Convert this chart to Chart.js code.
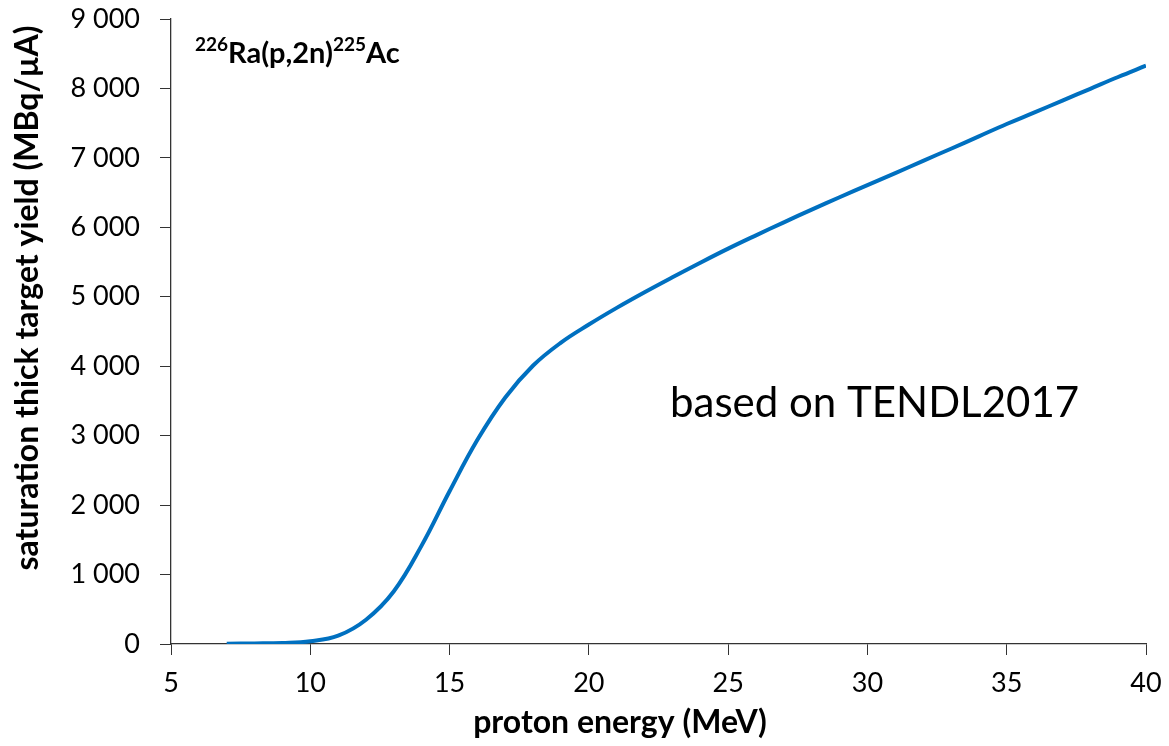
<!DOCTYPE html>
<html>
<head>
<meta charset="utf-8">
<script src="https://cdn.jsdelivr.net/npm/chart.js@4.4.1/dist/chart.umd.min.js"></script>
<style>
  html, body { margin: 0; padding: 0; background: #fff; }
  #wrap { width: 1169px; height: 746px; position: relative; }
</style>
</head>
<body>
<div id="wrap"><canvas id="yieldChart"></canvas></div>
<script>
// --- DADOS ---
const energia = [7, 8, 9, 10, 11, 12, 13, 14, 15, 16, 17, 18, 19, 20, 21, 22, 23, 24, 25, 26, 27, 28, 29, 30, 31, 32, 33, 34, 35, 36, 37, 38, 39, 40];
const rendimento = [5, 8, 15, 40, 120, 350, 760, 1420, 2200, 2940, 3550, 4010, 4340, 4600, 4840, 5065, 5280, 5490, 5693, 5885, 6072, 6255, 6433, 6607, 6780, 6958, 7132, 7310, 7488, 7655, 7825, 7995, 8165, 8328];

const tituloX = 'proton energy (MeV)';
const tituloY = 'saturation thick target yield (MBq/µA)';
const textoReacao = [['226', true], ['Ra(p,2n)', false], ['225', true], ['Ac', false]];
const textoFonte = 'based on TENDL2017';

const FONTE = 'Lato, "Open Sans", sans-serif';
const AZUL = '#0070C0';

// títulos dos eixos e texto livre, desenhados por cima
const anotacoes = {
    id: 'anotacoes',
    afterDraw(chart) {
        const ctx = chart.ctx;
        ctx.save();
        ctx.fillStyle = '#000';

        // título do eixo Y (fora do centro, como no original)
        ctx.save();
        ctx.translate(28, 298);
        ctx.rotate(-Math.PI / 2);
        ctx.font = 'bold 32px ' + FONTE;
        ctx.textAlign = 'center';
        ctx.textBaseline = 'middle';
        ctx.fillText(tituloY, 0, 0);
        ctx.restore();

        // título do eixo X
        ctx.font = 'bold 32px ' + FONTE;
        ctx.textAlign = 'center';
        ctx.textBaseline = 'middle';
        ctx.fillText(tituloX, 620, 723);

        // reação com sobrescritos
        ctx.textAlign = 'left';
        ctx.textBaseline = 'alphabetic';
        let x = 195;
        textoReacao.forEach(([t, sup]) => {
            ctx.font = sup ? 'bold 19px ' + FONTE : 'bold 29px ' + FONTE;
            ctx.fillText(t, x, sup ? 51 : 63);
            x += ctx.measureText(t).width;
        });

        ctx.font = '42px ' + FONTE;
        ctx.fillText(textoFonte, 670, 417);
        ctx.restore();
    }
};

const ctx = document.getElementById('yieldChart').getContext('2d');
new Chart(ctx, {
    type: 'line',
    data: {
        datasets: [{
            data: energia.map((e, i) => ({ x: e, y: rendimento[i] })),
            borderColor: AZUL,
            borderWidth: 4,
            pointRadius: 0,
            tension: 0.4,
            fill: false
        }]
    },
    options: {
        responsive: true,
        maintainAspectRatio: false,
        animation: false,
        layout: { padding: { top: 19, right: 23, left: 0, bottom: 0 } },
        plugins: { legend: { display: false }, tooltip: { enabled: false } },
        scales: {
            x: {
                type: 'linear',
                min: 5, max: 40,
                ticks: { stepSize: 5, color: '#000', font: { size: 27, family: FONTE }, padding: 12 },
                grid: { drawOnChartArea: false, drawTicks: true, tickLength: 11, color: '#333' },
                border: { color: '#333', width: 1.3 },
                afterFit: s => { s.height = 102; s.paddingLeft = 0; s.paddingRight = 0; }
            },
            y: {
                min: 0, max: 9000,
                ticks: {
                    stepSize: 1000, color: '#000', font: { size: 27, family: FONTE }, padding: 20,
                    callback: v => String(v).replace(/\B(?=(\d{3})+(?!\d))/g, ' ')
                },
                grid: { drawOnChartArea: false, drawTicks: true, tickLength: 11, color: '#333' },
                border: { color: '#333', width: 1.3 },
                afterFit: s => { s.width = 171; s.paddingTop = 0; s.paddingBottom = 0; }
            }
        }
    },
    plugins: [anotacoes]
});
</script>
</body>
</html>
